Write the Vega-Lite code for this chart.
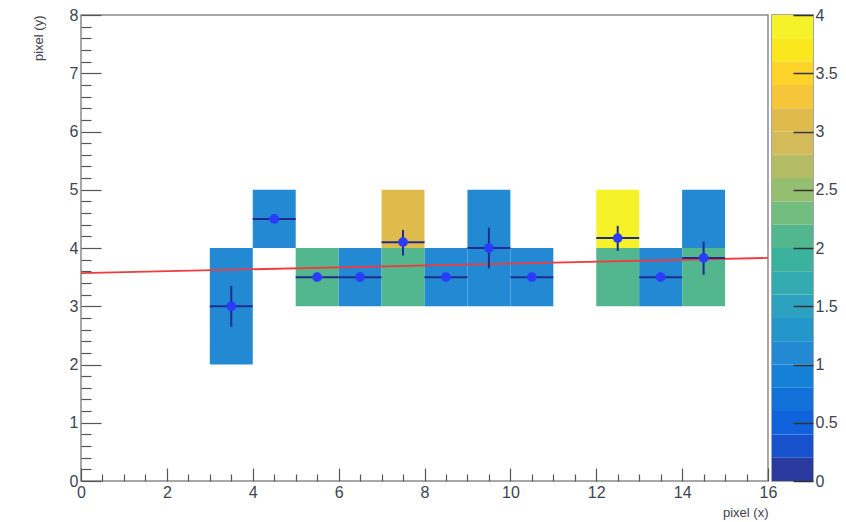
{
  "$schema": "https://vega.github.io/schema/vega-lite/v6.json",
  "padding": {"left": 31, "top": 6, "right": 0, "bottom": 0},
  "autosize": {"type": "pad"},
  "background": "white",
  "bounds": "flush",
  "spacing": 4,
  "resolve": {"scale": {"y": "independent", "color": "shared"}},
  "config": {
    "view": {"stroke": "#8a8a8a", "strokeWidth": 1.5},
    "axis": {
      "labelFont": "Liberation Sans",
      "titleFont": "Liberation Sans",
      "labelColor": "#3d4450",
      "titleColor": "#3d4450",
      "tickColor": "#555555",
      "tickWidth": 1.2,
      "domain": false,
      "grid": false,
      "labelFontSize": 16,
      "titleFontSize": 13,
      "titleFontWeight": "normal",
      "zindex": 1,
      "tickCount": 200
    }
  },
  "hconcat": [
    {
      "width": 687,
      "height": 466,
      "layer": [
        {
          "data": {"values": [
            {"x": 3, "x2": 4, "y": 2, "y2": 3, "z": 1},
            {"x": 3, "x2": 4, "y": 3, "y2": 4, "z": 1},
            {"x": 4, "x2": 5, "y": 4, "y2": 5, "z": 1},
            {"x": 5, "x2": 6, "y": 3, "y2": 4, "z": 2},
            {"x": 6, "x2": 7, "y": 3, "y2": 4, "z": 1},
            {"x": 7, "x2": 8, "y": 3, "y2": 4, "z": 2},
            {"x": 7, "x2": 8, "y": 4, "y2": 5, "z": 3},
            {"x": 8, "x2": 9, "y": 3, "y2": 4, "z": 1},
            {"x": 9, "x2": 10, "y": 3, "y2": 4, "z": 1},
            {"x": 9, "x2": 10, "y": 4, "y2": 5, "z": 1},
            {"x": 10, "x2": 11, "y": 3, "y2": 4, "z": 1},
            {"x": 12, "x2": 13, "y": 3, "y2": 4, "z": 2},
            {"x": 12, "x2": 13, "y": 4, "y2": 5, "z": 4},
            {"x": 13, "x2": 14, "y": 3, "y2": 4, "z": 1},
            {"x": 14, "x2": 15, "y": 3, "y2": 4, "z": 2},
            {"x": 14, "x2": 15, "y": 4, "y2": 5, "z": 1}
          ]},
          "mark": {"type": "rect", "strokeWidth": 0},
          "encoding": {
            "x": {
              "field": "x", "type": "quantitative",
              "scale": {"domain": [0, 16], "nice": false, "zero": false},
              "axis": {
                "values": [0,0.5,1,1.5,2,2.5,3,3.5,4,4.5,5,5.5,6,6.5,7,7.5,8,8.5,9,9.5,10,10.5,11,11.5,12,12.5,13,13.5,14,14.5,15,15.5,16],
                "tickCount": 200,
                "labelExpr": "datum.value % 2 === 0 ? format(datum.value, 'd') : ''",
                "tickSize": {"condition": {"test": "datum.value % 2 === 0", "value": -13}, "value": -7},
                "labelPadding": 16,
                "labelFlush": false,
                "labelOverlap": false,
                "title": "pixel (x)",
                "titleAnchor": "end",
                "titlePadding": 0,
                "zindex": 1
              }
            },
            "x2": {"field": "x2"},
            "y": {
              "field": "y", "type": "quantitative",
              "scale": {"domain": [0, 8], "nice": false, "zero": false},
              "axis": {
                "values": [0,0.2,0.4,0.6,0.8,1,1.2,1.4,1.6,1.8,2,2.2,2.4,2.6,2.8,3,3.2,3.4,3.6,3.8,4,4.2,4.4,4.6,4.8,5,5.2,5.4,5.6,5.8,6,6.2,6.4,6.6,6.8,7,7.2,7.4,7.6,7.8,8],
                "tickCount": 200,
                "labelExpr": "datum.value % 1 === 0 ? format(datum.value, 'd') : ''",
                "tickSize": {"condition": {"test": "datum.value % 1 === 0", "value": -20}, "value": -10},
                "labelPadding": 23,
                "labelOverlap": false,
                "title": "pixel (y)",
                "titleAnchor": "end",
                "titlePadding": 23,
                "zindex": 1
              }
            },
            "y2": {"field": "y2"},
            "color": {
              "field": "z", "type": "quantitative",
              "scale": {
                "type": "threshold",
                "domain": [0.2,0.4,0.6,0.8,1,1.2,1.4,1.6,1.8,2,2.2,2.4,2.6,2.8,3,3.2,3.4,3.6,3.8],
                "range": ["#2A3A9E","#1751CB","#1063DC","#1271D9","#1480D6","#2389D2","#2497CA","#2CA2C0","#33AAB0","#3BB29E","#52B78E","#74BD81","#96BE71","#B4BD65","#D2BB58","#DEBB4B","#F5C53A","#FDD32A","#FBE81C","#F5F22A"]
              },
              "legend": null
            }
          }
        },
        {
          "data": {"values": [{"x": 0, "y": 3.57}, {"x": 16, "y": 3.83}]},
          "mark": {"type": "line", "color": "#f03c40", "strokeWidth": 1.8},
          "encoding": {
            "x": {"field": "x", "type": "quantitative"},
            "y": {"field": "y", "type": "quantitative"}
          }
        },
        {
          "data": {"name": "prof", "values": [
            {"x": 3.5, "y": 3.0, "xlo": 3, "xhi": 4, "ylo": 2.65, "yhi": 3.35},
            {"x": 4.5, "y": 4.5, "xlo": 4, "xhi": 5, "ylo": 4.5, "yhi": 4.5},
            {"x": 5.5, "y": 3.5, "xlo": 5, "xhi": 6, "ylo": 3.5, "yhi": 3.5},
            {"x": 6.5, "y": 3.5, "xlo": 6, "xhi": 7, "ylo": 3.5, "yhi": 3.5},
            {"x": 7.5, "y": 4.1, "xlo": 7, "xhi": 8, "ylo": 3.87, "yhi": 4.31},
            {"x": 8.5, "y": 3.5, "xlo": 8, "xhi": 9, "ylo": 3.5, "yhi": 3.5},
            {"x": 9.5, "y": 4.0, "xlo": 9, "xhi": 10, "ylo": 3.65, "yhi": 4.35},
            {"x": 10.5, "y": 3.5, "xlo": 10, "xhi": 11, "ylo": 3.5, "yhi": 3.5},
            {"x": 12.5, "y": 4.17, "xlo": 12, "xhi": 13, "ylo": 3.95, "yhi": 4.38},
            {"x": 13.5, "y": 3.5, "xlo": 13, "xhi": 14, "ylo": 3.5, "yhi": 3.5},
            {"x": 14.5, "y": 3.83, "xlo": 14, "xhi": 15, "ylo": 3.54, "yhi": 4.11}
          ]},
          "layer": [
            {
              "mark": {"type": "rule", "color": "#1e2c8f", "strokeWidth": 2},
              "encoding": {
                "x": {"field": "xlo", "type": "quantitative"},
                "x2": {"field": "xhi"},
                "y": {"field": "y", "type": "quantitative"}
              }
            },
            {
              "mark": {"type": "rule", "color": "#1e2c8f", "strokeWidth": 2},
              "encoding": {
                "x": {"field": "x", "type": "quantitative"},
                "y": {"field": "ylo", "type": "quantitative"},
                "y2": {"field": "yhi"}
              }
            },
            {
              "mark": {"type": "point", "shape": "circle", "filled": true, "size": 95, "color": "#2a3cff", "opacity": 1},
              "encoding": {
                "x": {"field": "x", "type": "quantitative"},
                "y": {"field": "y", "type": "quantitative"}
              }
            }
          ]
        }
      ]
    },
    {
      "width": 41,
      "height": 466,
      "layer": [
        {
          "data": {"values": [
            {"lo": 0, "hi": 0.2, "c": 0.1},
            {"lo": 0.2, "hi": 0.4, "c": 0.3},
            {"lo": 0.4, "hi": 0.6, "c": 0.5},
            {"lo": 0.6, "hi": 0.8, "c": 0.7},
            {"lo": 0.8, "hi": 1.0, "c": 0.9},
            {"lo": 1.0, "hi": 1.2, "c": 1.1},
            {"lo": 1.2, "hi": 1.4, "c": 1.3},
            {"lo": 1.4, "hi": 1.6, "c": 1.5},
            {"lo": 1.6, "hi": 1.8, "c": 1.7},
            {"lo": 1.8, "hi": 2.0, "c": 1.9},
            {"lo": 2.0, "hi": 2.2, "c": 2.1},
            {"lo": 2.2, "hi": 2.4, "c": 2.3},
            {"lo": 2.4, "hi": 2.6, "c": 2.5},
            {"lo": 2.6, "hi": 2.8, "c": 2.7},
            {"lo": 2.8, "hi": 3.0, "c": 2.9},
            {"lo": 3.0, "hi": 3.2, "c": 3.1},
            {"lo": 3.2, "hi": 3.4, "c": 3.3},
            {"lo": 3.4, "hi": 3.6, "c": 3.5},
            {"lo": 3.6, "hi": 3.8, "c": 3.7},
            {"lo": 3.8, "hi": 4.0, "c": 3.9}
          ]},
          "mark": {"type": "rect", "strokeWidth": 0},
          "encoding": {
            "y": {
              "field": "lo", "type": "quantitative",
              "scale": {"domain": [0, 4], "nice": false, "zero": false},
              "axis": {
                "orient": "right",
                "values": [0,0.5,1,1.5,2,2.5,3,3.5,4],
                "tickCount": 200,
                "labelExpr": "format(datum.value, '~g')",
                "tickSize": -20,
                "tickWidth": 1.5,
                "tickColor": "#333333",
                "labelPadding": 22,
                "labelOverlap": false,
                "labelFlush": false,
                "title": null,
                "zindex": 2
              }
            },
            "y2": {"field": "hi"},
            "color": {
              "field": "c", "type": "quantitative",
              "scale": {
                "type": "threshold",
                "domain": [0.2,0.4,0.6,0.8,1,1.2,1.4,1.6,1.8,2,2.2,2.4,2.6,2.8,3,3.2,3.4,3.6,3.8],
                "range": ["#2A3A9E","#1751CB","#1063DC","#1271D9","#1480D6","#2389D2","#2497CA","#2CA2C0","#33AAB0","#3BB29E","#52B78E","#74BD81","#96BE71","#B4BD65","#D2BB58","#DEBB4B","#F5C53A","#FDD32A","#FBE81C","#F5F22A"]
              },
              "legend": null
            }
          }
        }
      ]
    }
  ]
}
